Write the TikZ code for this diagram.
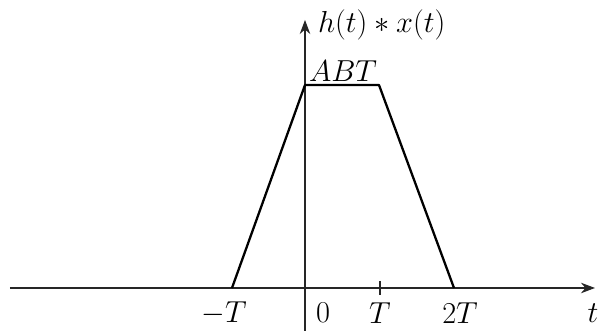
\documentclass[tikz,border=0pt]{standalone}
\usepackage{amsmath}
\usepackage{tikz}
\usetikzlibrary{positioning, arrows.meta, calc}

\begin{document}
\begin{tikzpicture}[
  axis/.style={draw=black!85, line width=0.6pt, -{Stealth[length=8pt,width=6pt]}},
  signal/.style={draw=black, line width=1.3pt, line join=round},
  lbl/.style={inner sep=1pt, font=\fontsize{16.5}{19}\selectfont}
]
  \useasboundingbox (-6.1,-0.86) rectangle (5.9,5.76);
  % axes
  \coordinate (xmin) at (-5.9,0);
  \coordinate (xmax) at (5.8,0);
  \coordinate (ymin) at (0,-0.86);
  \coordinate (ymax) at (0,5.36);
  \draw[axis] (xmin) -- (xmax);
  \draw[axis] (ymin) -- (ymax);
  % trapezoid
  \coordinate (a) at (-1.46,0);
  \coordinate (b) at (0,4.06);
  \coordinate (c) at (1.48,4.06);
  \coordinate (d) at (2.98,0);
  \draw[signal] (a) -- (b) -- (c) -- (d);
  % tick at T
  \coordinate (tT) at (1.5,0);
  \draw[draw=black!85, line width=0.6pt] ($(tT)+(0,0.14)$) -- ($(tT)+(0,-0.14)$);
  % labels
  \node[lbl] (lmT) at (-1.62,-0.5) {$-T$};
  \node[lbl] (lzero) at (0.36,-0.5) {$0$};
  \node[lbl] (lT) at (1.5,-0.5) {$T$};
  \node[lbl] (l2T) at (3.1,-0.5) {$2T$};
  \node[lbl] (lt) at (5.76,-0.5) {$t$};
  \node[lbl, anchor=west] (lhx) at (0.22,5.26) {$h(t)*x(t)$};
  \node[lbl, anchor=south west] (lABT) at (0.04,4.08) {$ABT$};
\end{tikzpicture}
\end{document}
